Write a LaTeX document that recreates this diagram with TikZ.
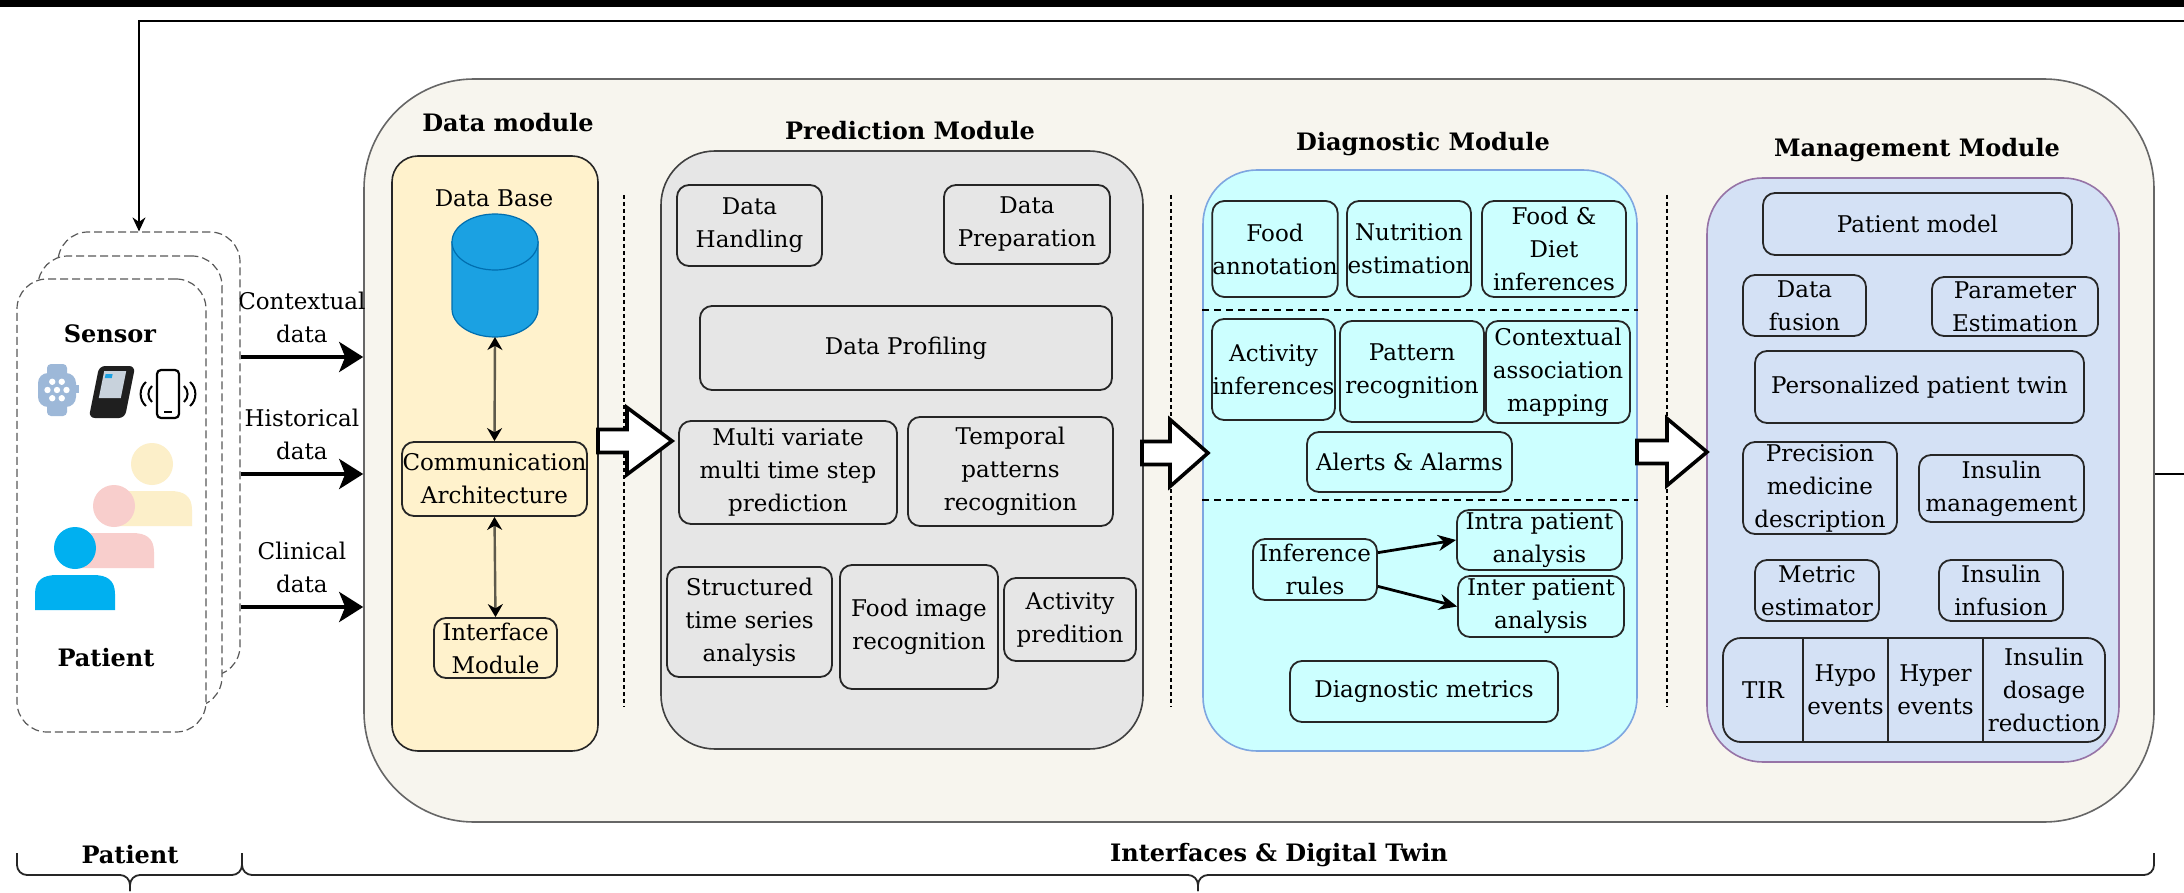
\documentclass[tikz,border=0pt]{standalone}
\usepackage{fontspec}
\setmainfont{DejaVu Serif}
\usetikzlibrary{arrows.meta,fit}

\definecolor{twinbg}{HTML}{F7F5EE}
\definecolor{datafill}{HTML}{FFF2CC}
\definecolor{predfill}{HTML}{E6E6E6}
\definecolor{diagfill}{HTML}{CCFFFF}
\definecolor{diagline}{HTML}{7EA6E0}
\definecolor{mgmtfill}{HTML}{D4E1F5}
\definecolor{mgmtline}{HTML}{9673A6}
\definecolor{dbblue}{HTML}{1BA1E2}
\definecolor{dbline}{HTML}{006EAF}
\definecolor{linkgray}{HTML}{5E5A4C}
\definecolor{watchblue}{HTML}{9DB8D8}
\definecolor{screengray}{HTML}{C8D2DC}
\definecolor{userblue}{HTML}{00B0F0}
\definecolor{userpink}{HTML}{F8CECC}
\definecolor{useryellow}{HTML}{FCEFC9}

\begin{document}
\begin{tikzpicture}[x=0.5pt, y=-0.5pt,
  every node/.style={font=\fontsize{11.5}{16.5}\selectfont},
  title/.style={font=\bfseries\fontsize{12}{15}\selectfont},
  card/.style={draw=black!65, fill=white, line width=0.6pt, dash pattern=on 4pt off 2pt, rounded corners=15pt, inner sep=0pt},
  module/.style={line width=0.8pt, inner sep=0pt},
  item/.style={draw=black!85, line width=0.9pt, rounded corners=6pt, align=center, inner sep=0pt},
  dat/.style={item, fill=datafill},
  pred/.style={item, fill=predfill},
  diag/.style={item, fill=diagfill},
  mgmt/.style={item, fill=mgmtfill},
  datalink/.style={line width=2pt, -{Stealth[length=12pt, width=15pt, inset=3pt]}},
  backlink/.style={line width=0.8pt, -{Stealth[length=7pt, width=6.5pt]}},
  duplex/.style={draw=linkgray, line width=1.2pt, {Stealth[length=6.5pt, width=7.5pt, color=black]}-{Stealth[length=6.5pt, width=7.5pt, color=black]}},
  rulelink/.style={line width=1.4pt, -{Stealth[length=9pt, width=8pt]}},
  hollow/.style={draw=black, fill=white, line width=1.8pt},
  sep/.style={line width=1pt, dash pattern=on 2pt off 1.5pt},
  divider/.style={line width=0.8pt, dash pattern=on 3.5pt off 2.5pt},
  brace/.style={draw=black!85, line width=0.9pt, rounded corners=5pt}
]
\useasboundingbox (0,0) rectangle (2184,893);
\fill[black] (0,0) rectangle (2184,7);

\node[card, fit={(58,232) (240,676)}] (pback) {};
\node[card, fit={(38,256) (222,707)}] (pmid) {};
\node[card, fit={(17,279) (206,732)}] (pfront) {};
\node[title] (sensor) at (110,334) {Sensor};
\node[title] (patient) at (106,658) {Patient};

\fill[watchblue, rounded corners=2pt] (47,364) rectangle (67,378);
\fill[watchblue, rounded corners=2pt] (47,402) rectangle (67,416);
\fill[watchblue, rounded corners=5pt] (38,373) rectangle (76,407);
\fill[watchblue] (76,385) rectangle (79,393);
\fill[white] (57,390) circle (3.2);
\foreach \a in {0,60,...,300}
  \fill[white] (57,390) ++(\a:9.5) circle (3.2);

\begin{scope}[shift={(112,392)}, xslant=0.2]
  \fill[black!88, rounded corners=3pt] (-18,-26) rectangle (18,26);
  \fill[screengray] (-12,-21) rectangle (10,6);
  \fill[dbblue] (-10,-18) rectangle (-3,-14);
\end{scope}

\draw[line width=1.1pt, rounded corners=2pt] (157,370) rectangle (179,418);
\draw[line width=1.1pt] (164,412) -- (172,412);
\draw[line width=1pt] (152,386) to[bend right=50] (152,402);
\draw[line width=1pt] (146,382) to[bend right=50] (146,406);
\draw[line width=1pt] (184,386) to[bend left=50] (184,402);
\draw[line width=1pt] (190,382) to[bend left=50] (190,406);

\foreach \px/\py/\pc in {152/464/useryellow, 114/506/userpink, 75/548/userblue} {
  \fill[\pc] (\px,\py) circle (21);
  \fill[\pc] (\px-40,\py+62) -- (\px-40,\py+46) .. controls (\px-40,\py+32) and (\px-32,\py+27) .. (\px-18,\py+27)
    -- (\px+18,\py+27) .. controls (\px+32,\py+27) and (\px+40,\py+32) .. (\px+40,\py+46) -- (\px+40,\py+62) -- cycle;
}

\node[module, draw=black!60, fill=twinbg, rounded corners=55pt, fit={(364,79) (2154,822)}] (twin) {};

\draw[datalink] (pback.east |- 0,357) -- node[above=5pt, align=center, inner sep=1pt] (ctxlbl) {Contextual\\data} (twin.west |- 0,357);
\draw[datalink] (pback.east |- 0,474) -- node[above=5pt, align=center, inner sep=1pt] (hislbl) {Historical\\data} (twin.west |- 0,474);
\draw[datalink] (pback.east |- 0,607) -- node[above=5pt, align=center, inner sep=1pt] (clilbl) {Clinical\\data} (twin.west |- 0,607);
\draw[backlink] ([yshift=-11.75pt]twin.east) -- (2200,474) |- (139,21) -- (pback.north -| 139,0);

\node[title] (dmtitle) at (508,123) {Data module};
\node[module, draw=black!85, fill=datafill, rounded corners=13pt, fit={(392,156) (598,751)}] (dmod) {};
\node (dblbl) at (494,198) {Data Base};
\fill[dbblue, draw=dbline, line width=0.6pt] (452,242) -- (452,309) arc[start angle=180, end angle=0, x radius=43, y radius=28] -- (538,242) -- cycle;
\filldraw[fill=dbblue, draw=dbline, line width=0.6pt] (495,242) ellipse [x radius=43, y radius=28];
\coordinate (dbase) at (495,337);
\node[dat, minimum width=92.5pt, minimum height=37pt] (comm) at (494.5,479) {Communication\\Architecture};
\node[dat, minimum width=61.5pt, minimum height=30pt] (iface) at (495.5,648) {Interface\\Module};
\draw[duplex] (dbase) -- (comm.north);
\draw[duplex] (comm.south) -- (iface.north);

\node[title] (pmtitle) at (910,131) {Prediction Module};
\node[module, draw=black!75, fill=predfill, rounded corners=27pt, fit={(661,151) (1143,749)}] (pmod) {};
\node[pred, minimum width=72.5pt, minimum height=40.5pt] (dh) at (749.5,225.5) {Data\\Handling};
\node[pred, minimum width=83pt, minimum height=39.5pt] (dprep) at (1027,224.5) {Data\\Preparation};
\node[pred, minimum width=206pt, minimum height=42pt] (dprof) at (906,348) {Data Profiling};
\node[pred, minimum width=109pt, minimum height=51.5pt] (mvp) at (788,472.5) {Multi variate\\multi time step\\prediction};
\node[pred, minimum width=102.5pt, minimum height=54.5pt] (tpr) at (1010.5,471.5) {Temporal\\patterns\\recognition};
\node[pred, minimum width=82.5pt, minimum height=55pt] (sts) at (749.5,622) {Structured\\time series\\analysis};
\node[pred, minimum width=79pt, minimum height=62pt] (fir) at (919,627) {Food image\\recognition};
\node[pred, minimum width=66pt, minimum height=41.5pt] (actp) at (1070,619.5) {Activity\\predition};

\node[title] (dgtitle) at (1423,144) {Diagnostic Module};
\node[module, draw=diagline, fill=diagfill, rounded corners=27pt, fit={(1203,170) (1637,751)}] (dgmod) {};
\node[diag, minimum width=62pt, minimum height=48pt] (fann) at (1275,249) {Food\\annotation};
\node[diag, minimum width=62pt, minimum height=48pt] (nest) at (1409,249) {Nutrition\\estimation};
\node[diag, minimum width=72pt, minimum height=48pt] (fdi) at (1554,249) {Food \&\\Diet\\inferences};
\draw[divider] (dgmod.west |- 0,310) -- (dgmod.east |- 0,310);
\node[diag, minimum width=61.5pt, minimum height=50.5pt] (actinf) at (1273.5,369.5) {Activity\\inferences};
\node[diag, minimum width=72pt, minimum height=50.5pt] (patrec) at (1412,371.5) {Pattern\\recognition};
\node[diag, minimum width=72pt, minimum height=51pt] (cam) at (1558,372) {Contextual\\association\\mapping};
\node[diag, minimum width=102.5pt, minimum height=30pt] (alarm) at (1409.5,462) {Alerts \& Alarms};
\draw[divider] (dgmod.west |- 0,500) -- (dgmod.east |- 0,500);
\node[diag, minimum width=62pt, minimum height=30.5pt] (irules) at (1315,569.5) {Inference\\rules};
\node[diag, minimum width=82.5pt, minimum height=30pt] (intra) at (1539.5,540) {Intra patient\\analysis};
\node[diag, minimum width=83pt, minimum height=30.5pt] (inter) at (1541,606.5) {Inter patient\\analysis};
\node[diag, minimum width=134pt, minimum height=30.5pt] (dmet) at (1424,691.5) {Diagnostic metrics};
\draw[rulelink] (irules.15) -- (intra.west);
\draw[rulelink] (irules.-15) -- (inter.west);

\node[title] (mgtitle) at (1917,150) {Management Module};
\node[module, draw=mgmtline, fill=mgmtfill, rounded corners=28pt, fit={(1707,178) (2119,762)}] (mgmod) {};
\node[mgmt, minimum width=154.5pt, minimum height=31pt] (pmodel) at (1917.5,224) {Patient model};
\node[mgmt, minimum width=61.5pt, minimum height=30.5pt] (dfus) at (1804.5,305.5) {Data\\fusion};
\node[mgmt, minimum width=83pt, minimum height=29.5pt] (pest) at (2015,306.5) {Parameter\\Estimation};
\node[mgmt, minimum width=164.5pt, minimum height=36pt] (ppt) at (1919.5,387) {Personalized patient twin};
\node[mgmt, minimum width=77pt, minimum height=46pt] (pmd) at (1820,488) {Precision\\medicine\\description};
\node[mgmt, minimum width=82.5pt, minimum height=33.5pt] (imgmt) at (2001.5,488.5) {Insulin\\management};
\node[mgmt, minimum width=62pt, minimum height=30.5pt] (mest) at (1817,590.5) {Metric\\estimator};
\node[mgmt, minimum width=62pt, minimum height=30.5pt] (iinf) at (2001,590.5) {Insulin\\infusion};
\node[mgmt, rounded corners=9pt, fit={(1723,638) (2105,742)}] (tbl) {};
\foreach \cx in {1803,1888,1983}
  \draw[black!85, line width=0.9pt] (tbl.north -| \cx,0) -- (tbl.south -| \cx,0);
\node (tir) at (1763,690) {TIR};
\node[align=center] (hypo) at (1845.5,690) {Hypo\\events};
\node[align=center] (hyper) at (1935.5,690) {Hyper\\events};
\node[align=center] (idr) at (2044,690) {Insulin\\dosage\\reduction};

\draw[sep] (624,195) -- (624,707);
\draw[sep] (1171,195) -- (1171,707);
\draw[sep] (1667,195) -- (1667,707);
\draw[hollow] (598,429.5) -- (627,429.5) -- (627,407.5) -- (672,441) -- (627,474.5) -- (627,452.5) -- (598,452.5) -- cycle;
\draw[hollow] (1142,441.5) -- (1170,441.5) -- (1170,419.5) -- (1208,453) -- (1170,486.5) -- (1170,464.5) -- (1142,464.5) -- cycle;
\draw[hollow] (1637,440.5) -- (1667,440.5) -- (1667,418.5) -- (1707,452) -- (1667,485.5) -- (1667,463.5) -- (1637,463.5) -- cycle;

\draw[brace] (17,853) |- (130,875) -- (130,891);
\draw[brace] (130,891) -- (130,875) -| (242,853);
\draw[brace] (242,853) |- (1198,875) -- (1198,891);
\draw[brace] (1198,891) -- (1198,875) -| (2154,853);
\node[title] (ptlbl) at (130,855) {Patient};
\node[title] (dtlbl) at (1279,855) {Interfaces \& Digital Twin};
\end{tikzpicture}
\end{document}
